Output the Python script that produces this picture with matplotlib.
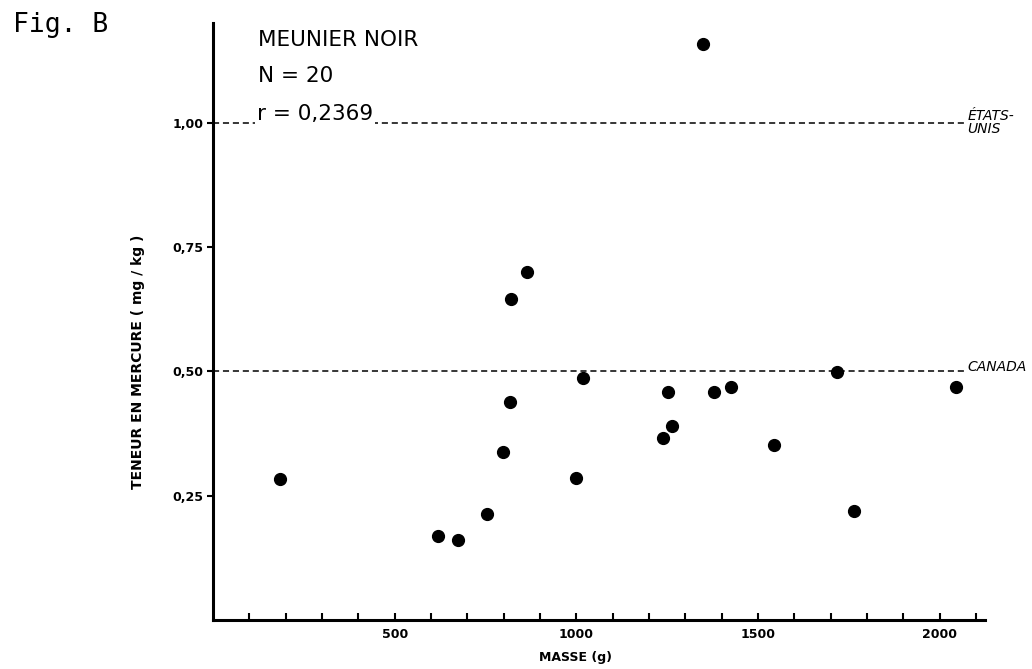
import numpy as np
import matplotlib.pyplot as plt

# masse (g) et teneur en mercure (mg/kg), meunier noir, N = 20
masse = [185, 619, 673, 755, 799, 818, 821, 865, 998, 1018,
         1238, 1253, 1264, 1349, 1379, 1427, 1543, 1717, 1763, 2046]
mercure = [0.284, 0.168, 0.160, 0.214, 0.337, 0.439, 0.645, 0.699, 0.285, 0.486,
           0.366, 0.459, 0.391, 1.158, 0.458, 0.469, 0.351, 0.498, 0.220, 0.469]

# normes (mg/kg)
normes = [1.00, 0.50]
normes_noms = ['ÉTATS-\nUNIS', 'CANADA']

x_ticks = list(range(100, 2101, 100))
x_labels = ['500', '1000', '1500', '2000']
y_ticks = [0.25, 0.50, 0.75, 1.00]
y_labels = ['0,25', '0,50', '0,75', '1,00']

fig = plt.figure(figsize=(10.32, 6.69), dpi=100)
ax = fig.add_axes([0.2064, 0.0732, 0.7481, 0.8924])

ax.plot(masse, mercure, 'o', color='black', markersize=8.5)

ligne_fin = 2066
for val, nom in zip(normes, normes_noms):
    ax.plot([0, ligne_fin], [val, val], color='black', lw=1.1,
            linestyle=(0, (4, 2.5)), zorder=1)
    if '\n' in nom:
        ax.text(ligne_fin + 10, val, nom, fontsize=10, style='italic',
                va='center', ha='left', linespacing=0.85, clip_on=False)
    else:
        ax.text(ligne_fin + 10, val, nom, fontsize=10, style='italic',
                va='baseline', ha='left', clip_on=False)

ax.set_xlim(0, 2125)
ax.set_ylim(0, 1.20)

ax.spines['top'].set_visible(False)
ax.spines['right'].set_visible(False)
ax.spines['left'].set_linewidth(2.2)
ax.spines['bottom'].set_linewidth(2.2)

ax.set_xticks(x_ticks)
ax.set_xticklabels([str(t) if str(t) in x_labels else '' for t in x_ticks])
ax.set_yticks(y_ticks)
ax.set_yticklabels(y_labels)
ax.tick_params(axis='x', direction='in', length=5, width=1.5, labelsize=9, pad=6)
ax.tick_params(axis='y', direction='out', length=4, width=1.5, labelsize=9, pad=3)
for lab in ax.get_xticklabels() + ax.get_yticklabels():
    lab.set_fontweight('bold')

ax.set_xlabel('MASSE (g)', fontsize=9, fontweight='bold')
ax.xaxis.set_label_coords(0.47, -0.052)
ax.set_ylabel('TENEUR EN MERCURE ( mg / kg )', fontsize=10, fontweight='bold')
ax.yaxis.set_label_coords(-0.088, 0.433)

ax.text(0.058, 0.972, 'MEUNIER NOIR', transform=ax.transAxes, fontsize=15.5,
        va='center', ha='left')
ax.text(0.058, 0.912, 'N = 20', transform=ax.transAxes, fontsize=15.5,
        va='center', ha='left')
ax.text(0.057, 1.006, 'r = 0,2369', fontsize=15.5, va='baseline', ha='left',
        transform=ax.get_yaxis_transform(),
        bbox=dict(facecolor='white', edgecolor='none', pad=1.5), zorder=3)

fig.text(0.013, 0.982, 'Fig. B', fontsize=19, family='DejaVu Sans Mono',
         va='top', ha='left')

plt.savefig('out.png', dpi=100)
